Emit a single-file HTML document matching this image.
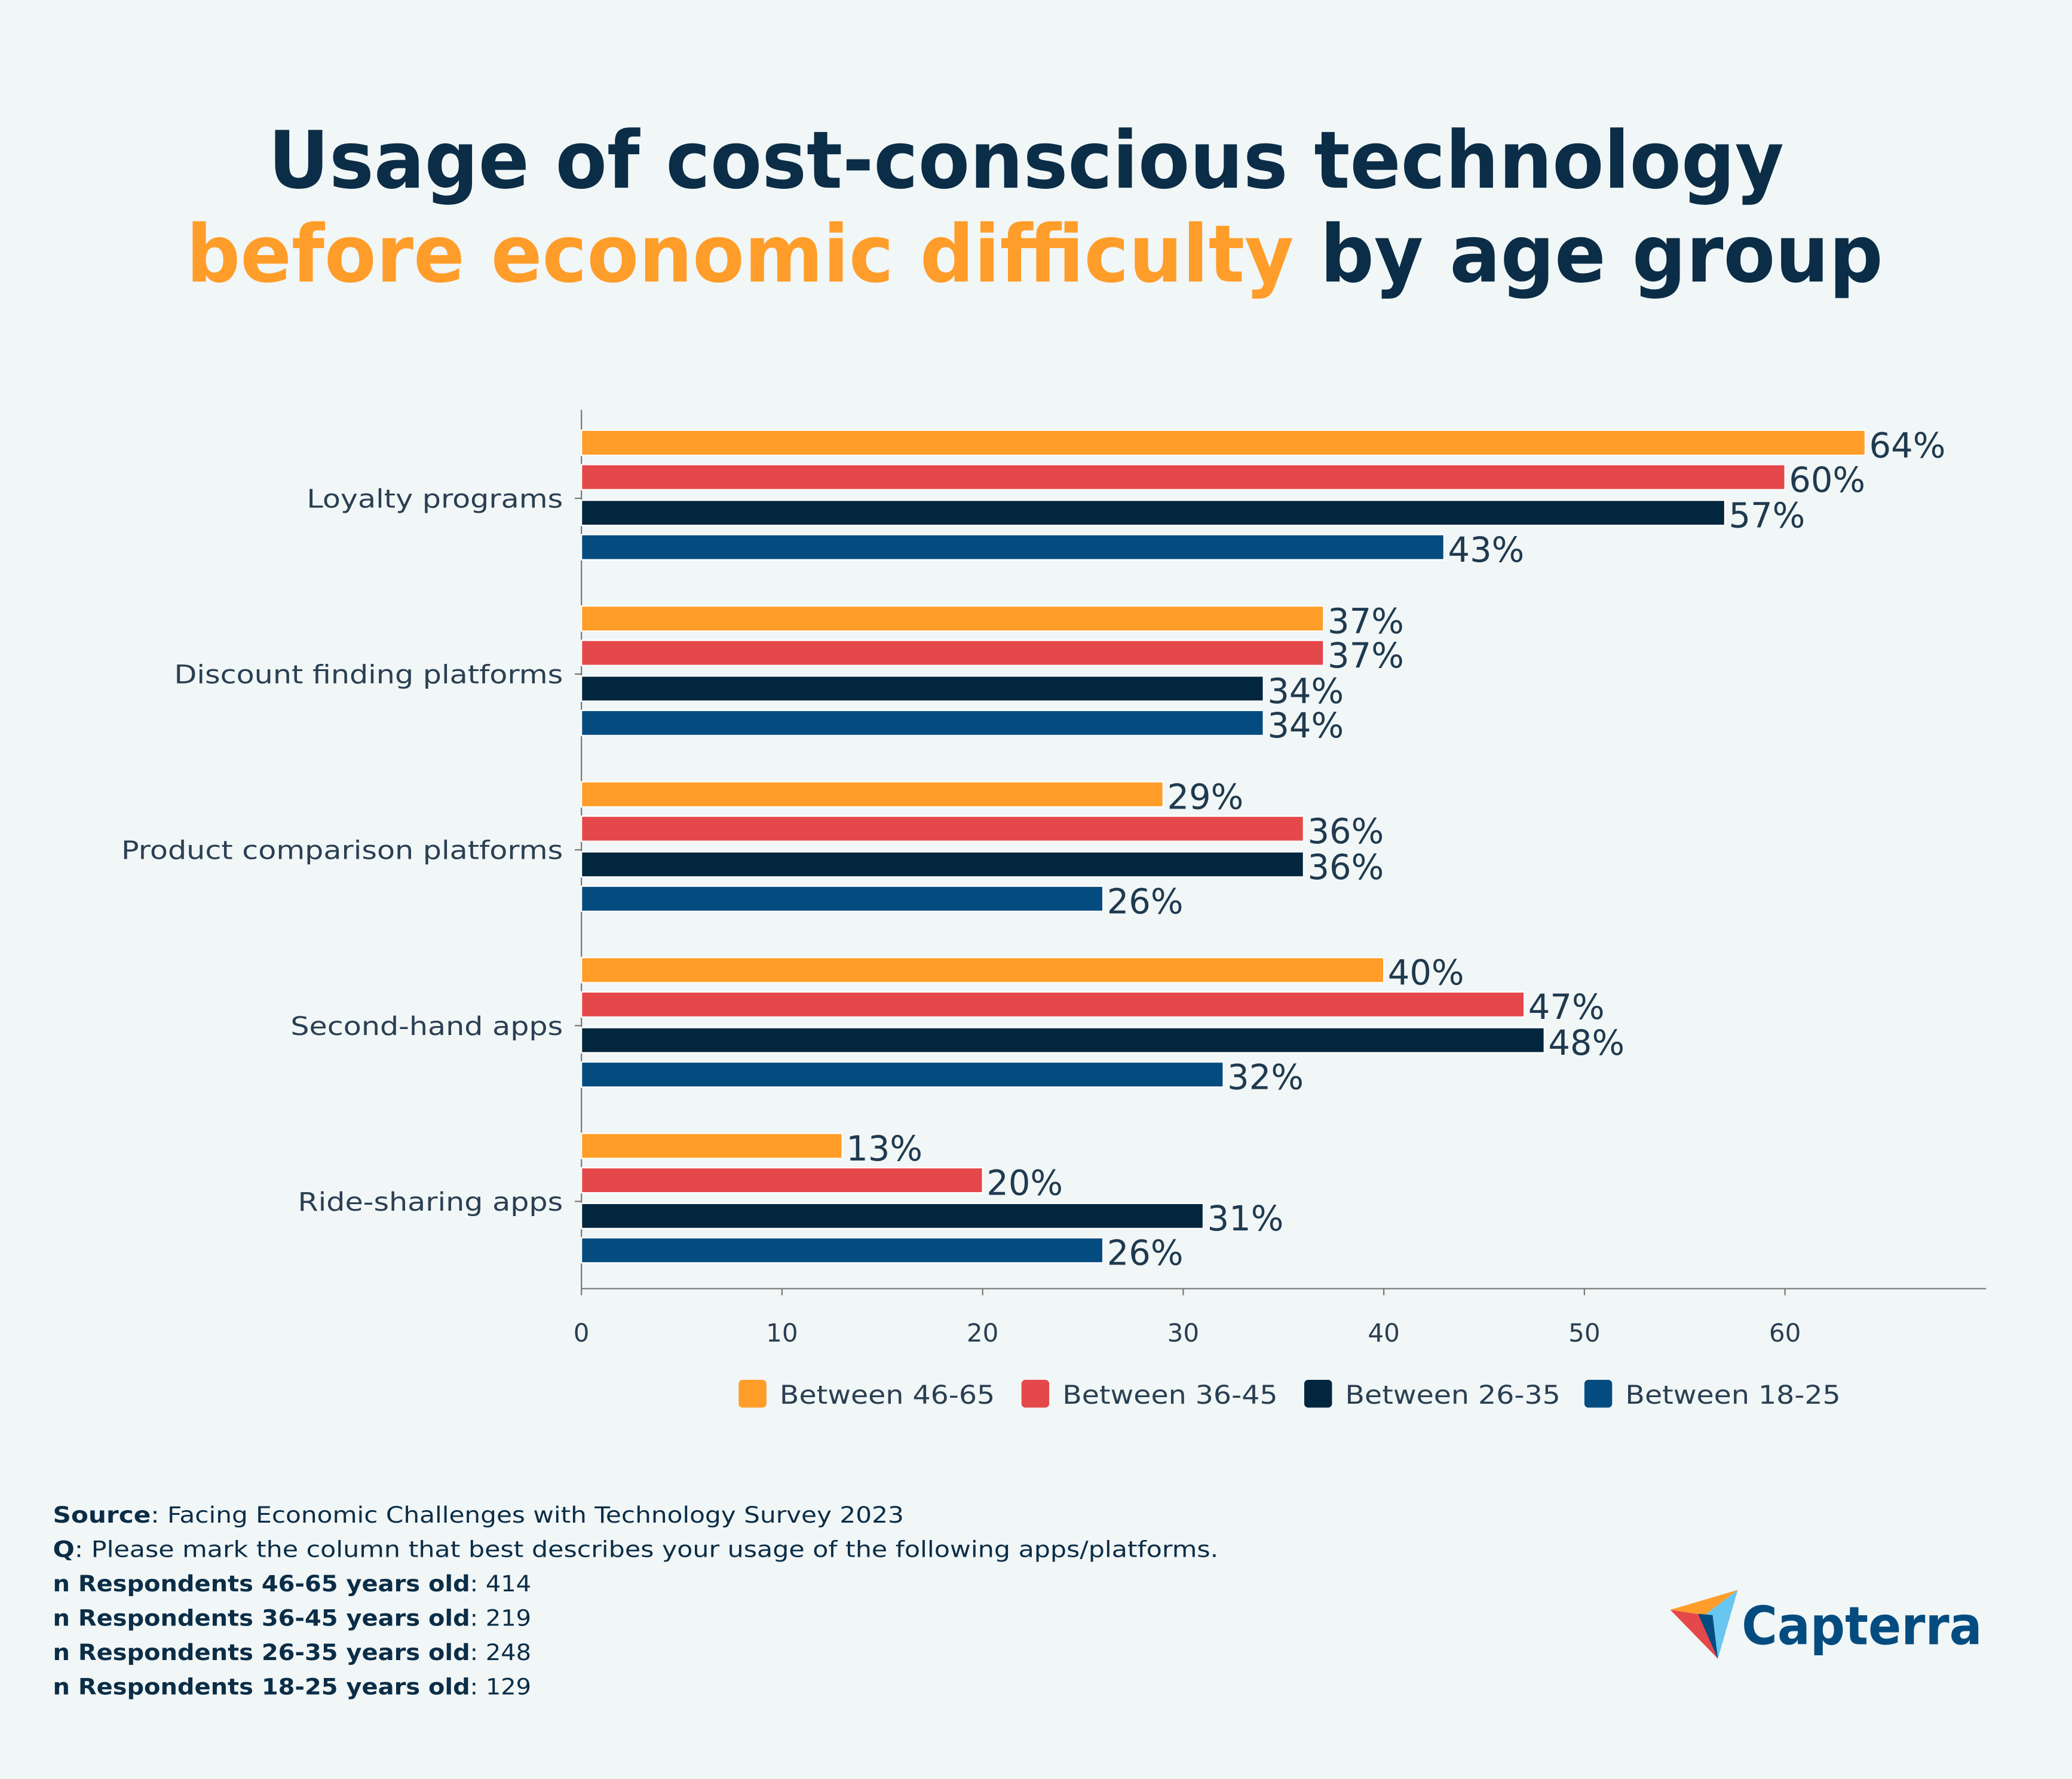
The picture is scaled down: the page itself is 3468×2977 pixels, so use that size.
<!DOCTYPE html>
<html><head><meta charset="utf-8"><style>
html,body{margin:0;padding:0;background:#f1f6f6;}
svg{display:block;font-family:"DejaVu Sans","Liberation Sans",sans-serif;}
</style></head><body>
<svg id="chart" width="3468" height="2977" viewBox="0 0 1568 1346" xmlns="http://www.w3.org/2000/svg">
<rect width="1568" height="1346" fill="#f1f6f6"/>
<text x="203" y="142" textLength="1147" lengthAdjust="spacingAndGlyphs" font-size="60" font-weight="bold" fill="#0b2d47">Usage of cost-conscious technology</text>
<text x="141" y="213" textLength="1284" lengthAdjust="spacingAndGlyphs" font-size="60" font-weight="bold" fill="#0b2d47"><tspan fill="#ff9d2a">before economic difficulty</tspan> by age group</text>
<g id="plot"></g>
<g id="legend"></g>
<g font-size="17" fill="#0b2d47">
<text x="40" y="1152" textLength="644" lengthAdjust="spacingAndGlyphs"><tspan font-weight="bold">Source</tspan>: Facing Economic Challenges with Technology Survey 2023</text>
<text x="40" y="1178" textLength="882" lengthAdjust="spacingAndGlyphs"><tspan font-weight="bold">Q</tspan>: Please mark the column that best describes your usage of the following apps/platforms.</text>
<text x="40" y="1204" textLength="362" lengthAdjust="spacingAndGlyphs"><tspan font-weight="bold">n Respondents 46-65 years old</tspan>: 414</text>
<text x="40" y="1230" textLength="362" lengthAdjust="spacingAndGlyphs"><tspan font-weight="bold">n Respondents 36-45 years old</tspan>: 219</text>
<text x="40" y="1256" textLength="362" lengthAdjust="spacingAndGlyphs"><tspan font-weight="bold">n Respondents 26-35 years old</tspan>: 248</text>
<text x="40" y="1282" textLength="362" lengthAdjust="spacingAndGlyphs"><tspan font-weight="bold">n Respondents 18-25 years old</tspan>: 129</text>
</g>
<g>
<polygon points="1264,1218 1315,1203 1290,1222" fill="#ff9d2a"/>
<polygon points="1290,1222 1315,1203 1300,1255" fill="#68c6f0"/>
<polygon points="1264,1218 1290,1222 1300,1255" fill="#e5484a"/>
<polygon points="1285,1221 1296,1222 1300,1255" fill="#044c80"/>
<text x="1318" y="1244" font-size="40" font-weight="bold" fill="#044c80" textLength="182" lengthAdjust="spacingAndGlyphs">Capterra</text>
</g>
</svg>
<script>
const categories=["Loyalty programs","Discount finding platforms","Product comparison platforms","Second-hand apps","Ride-sharing apps"];
const seriesNames=["Between 46-65","Between 36-45","Between 26-35","Between 18-25"];
const s4665=[64,37,29,40,13];
const s3645=[60,37,36,47,20];
const s2635=[57,34,36,48,31];
const s1825=[43,34,26,32,26];
const xTicks=[0,10,20,30,40,50,60];
const colors=["#ff9d28","#e5484a","#03263f","#044c80"];
const series=[s4665,s3645,s2635,s1825];
const NS="http://www.w3.org/2000/svg";
const x0=440,pxPer=15.18,axisY=975,axisTop=310,axisEnd=1503;
const X=v=>x0+v*pxPer;
const groupY=i=>377+i*133;
const plot=document.getElementById('plot');
function mk(tag,attrs,parent){const e=document.createElementNS(NS,tag);for(const k in attrs)e.setAttribute(k,attrs[k]);parent.appendChild(e);return e;}
function stretch(t,f){const w=t.getComputedTextLength();t.setAttribute('textLength',(w*f).toFixed(1));t.setAttribute('lengthAdjust','spacingAndGlyphs');}
let l=mk('line',{x1:x0,y1:axisTop,x2:x0,y2:axisY,stroke:'#777','stroke-width':1},plot);


l=mk('line',{x1:x0,y1:axisY,x2:axisEnd,y2:axisY,stroke:'#777','stroke-width':1},plot);


xTicks.forEach(t=>{
  const tk=mk('line',{x1:X(t),y1:axisY,x2:X(t),y2:axisY+5,stroke:'#777'},plot);
  
  
  const tx=mk('text',{x:X(t),y:axisY+40,'text-anchor':'middle','font-size':19,fill:'#2a3f52'},plot);
  tx.textContent=t;
  
  
});
const offs=[-42,-16,11,37];
categories.forEach((c,i)=>{
  const gy=groupY(i);
  const t=mk('text',{x:426,y:gy+7,'text-anchor':'end','font-size':19.5,fill:'#2a3f52'},plot);
  t.textContent=c;
  
  
  stretch(t,1.14);
  const tk=mk('line',{x1:x0-5,y1:gy,x2:x0,y2:gy,stroke:'#777'},plot);
  
  
  series.forEach((s,j)=>{
    const v=s[i];const cy=gy+offs[j];
    const r=mk('rect',{x:x0,y:cy-9.5,width:X(v)-x0,height:19,fill:colors[j],stroke:'#fff','stroke-width':1},plot);
    
    
    const vt=mk('text',{x:X(v)+3,y:cy+11,'font-size':26,fill:'#1f3a4f'},plot);
    vt.textContent=v+'%';
    
    
  });
});
const legend=document.getElementById('legend');
const lx=[559,773,987,1199];
seriesNames.forEach((n,j)=>{
  const r=mk('rect',{x:lx[j],y:1044,width:21,height:21,rx:3,fill:colors[j]},legend);
  
  
  const t=mk('text',{x:lx[j]+31,y:1062,'font-size':19.5,fill:'#2a3f52'},legend);
  t.textContent=n;
  
  
  stretch(t,1.1);
});
</script>
</body></html>
